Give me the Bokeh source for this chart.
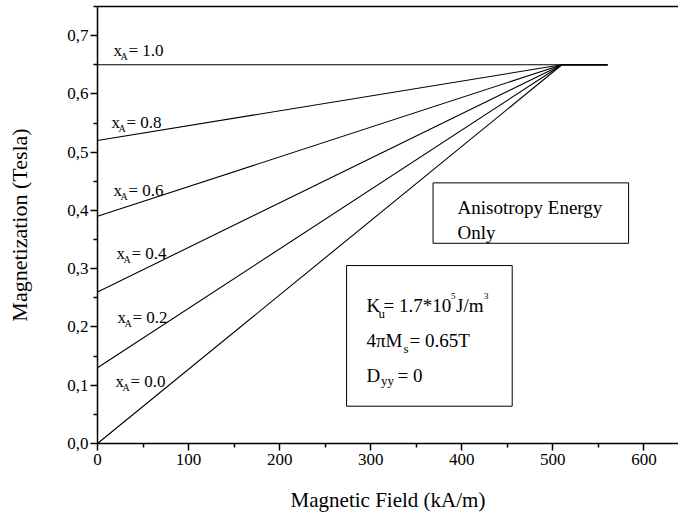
from bokeh.plotting import figure
from bokeh.models import Range1d, FixedTicker, LinearAxis, BoxAnnotation
from bokeh.core.properties import value
from bokeh.embed import file_html
from bokeh.resources import INLINE

FONT = "Liberation Serif"

# ---- data ----
field = [0, 510, 560]                      # kA/m
m_x00 = [0.00, 0.65, 0.65]
m_x02 = [0.13, 0.65, 0.65]
m_x04 = [0.26, 0.65, 0.65]
m_x06 = [0.39, 0.65, 0.65]
m_x08 = [0.52, 0.65, 0.65]
m_x10 = [0.65, 0.65, 0.65]
series = [m_x00, m_x02, m_x04, m_x06, m_x08, m_x10]

xa_values = [0.0, 0.2, 0.4, 0.6, 0.8, 1.0]

x_ticks = [0, 100, 200, 300, 400, 500, 600]
x_minor = [50, 150, 250, 350, 450, 550, 650]
y_ticks = [0.0, 0.1, 0.2, 0.3, 0.4, 0.5, 0.6, 0.7]
y_minor = [0.05, 0.15, 0.25, 0.35, 0.45, 0.55, 0.65, 0.75]
y_tick_labels = ["0,0", "0,1", "0,2", "0,3", "0,4", "0,5", "0,6", "0,7"]

# annotation anchors (data units)
label_field = [19.8, 22.0, 20.9, 17.6, 15.4, 17.6]
label_mag = [0.106, 0.216, 0.326, 0.434, 0.551, 0.674]

p = figure(width=678, height=514, output_backend="svg", toolbar_location=None,
           x_range=Range1d(0, 638), y_range=Range1d(0, 0.75),
           min_border_left=97, min_border_right=0, min_border_top=6,
           min_border_bottom=71,
           x_axis_label="Magnetic Field (kA/m)",
           y_axis_label="Magnetization (Tesla)")
p.outline_line_color = None
p.grid.visible = False
p.background_fill_color = "white"
p.border_fill_color = "white"

for ys in series:
    p.line(field, ys, line_color="black", line_width=1.1)

p.xaxis.ticker = FixedTicker(ticks=x_ticks, minor_ticks=x_minor)
p.yaxis.ticker = FixedTicker(ticks=y_ticks, minor_ticks=y_minor)
p.yaxis.major_label_overrides = {t: s for t, s in zip(y_ticks, y_tick_labels)}

for ax in (p.xaxis[0], p.yaxis[0]):
    ax.axis_line_width = 1.5
    ax.axis_line_color = "black"
    ax.major_tick_line_width = 1.5
    ax.minor_tick_line_width = 1.5
    ax.major_tick_line_color = "black"
    ax.minor_tick_line_color = "black"
    ax.major_tick_in = 0
    ax.major_tick_out = 7
    ax.minor_tick_in = 0
    ax.minor_tick_out = 4
    ax.major_label_text_font = FONT
    ax.major_label_text_font_size = "17px"
    ax.major_label_text_color = "black"
    ax.axis_label_text_font = FONT
    ax.axis_label_text_font_style = "normal"
    ax.axis_label_text_color = "black"

p.xaxis.axis_label_text_font_size = "21px"
p.yaxis.axis_label_text_font_size = "22px"
p.xaxis.major_label_standoff = 3
p.yaxis.major_label_standoff = 2
p.xaxis.axis_label_standoff = 20
p.yaxis.axis_label_standoff = 32

top = LinearAxis(ticker=FixedTicker(ticks=[]), axis_line_width=1.5,
                 axis_line_color="black", major_tick_out=0, minor_tick_out=0,
                 major_tick_in=0, minor_tick_in=0, major_label_standoff=0)
p.add_layout(top, "above")


def txt(xs, ys, texts, size, dx=0, dy=0):
    p.text(x=xs, y=ys, text=texts, text_font=value(FONT),
           text_font_size=value(size), x_offset=dx, y_offset=dy,
           text_align="left", text_baseline="alphabetic", text_color="black")


# x_A labels
n = len(xa_values)
txt(label_field, label_mag, ["x"] * n, "17px")
txt(label_field, label_mag, ["A"] * n, "10px", dx=7, dy=6)
txt(label_field, label_mag, ["= %.1f" % v for v in xa_values], "17px", dx=15)

# box 1
p.add_layout(BoxAnnotation(left=368.5, right=583.2, top=0.4473, bottom=0.3436,
                           fill_alpha=0, line_color="black", line_alpha=1,
                           line_width=1))
txt([395.4, 395.4], [0.4049, 0.362], ["Anisotropy Energy", "Only"], "19px")

# box 2
p.add_layout(BoxAnnotation(left=273.5, right=455.4, top=0.3054, bottom=0.064,
                           fill_alpha=0, line_color="black", line_alpha=1,
                           line_width=1))
bx = [295.4]
txt(bx, [0.2367], ["K"], "19px")
txt(bx, [0.2367], ["u"], "13px", dx=12, dy=8)
txt(bx, [0.2367], ["= 1.7*10"], "19px", dx=17)
txt(bx, [0.2367], ["5"], "9px", dx=84.5, dy=-9.5)
txt(bx, [0.2367], ["J/m"], "19px", dx=89.5)
txt(bx, [0.2367], ["3"], "9px", dx=117.5, dy=-9.5)

txt(bx, [0.1767], ["4\u03c0M"], "19px")
txt(bx, [0.1767], ["s"], "13px", dx=37, dy=8)
txt(bx, [0.1767], ["= 0.65T"], "19px", dx=43)

txt(bx, [0.1167], ["D"], "19px")
txt(bx, [0.1167], ["yy"], "13px", dx=14.5, dy=5)
txt(bx, [0.1167], ["= 0"], "19px", dx=31)

open("out.html", "w").write(file_html(p, INLINE))
